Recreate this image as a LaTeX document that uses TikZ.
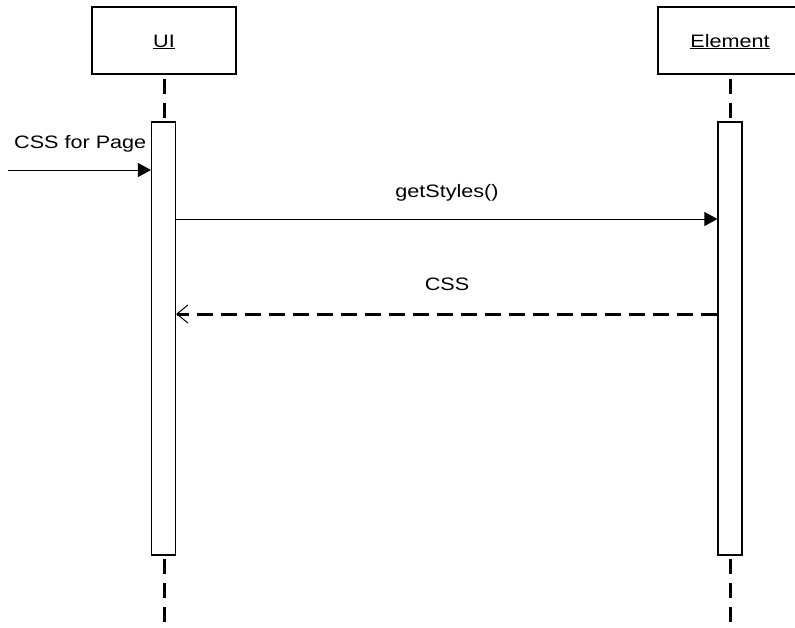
\documentclass[tikz,border=0pt]{standalone}
\usepackage{fontspec}
\setmainfont{Liberation Sans}[FakeStretch=1.2]
\usetikzlibrary{arrows.meta}
\begin{document}
\begin{tikzpicture}[x=1pt,y=-1pt,
  font=\fontsize{18}{21}\selectfont,
  objbox/.style={draw,line width=1.4pt,minimum width=144pt,minimum height=67pt,inner sep=0pt},
  actbox/.style={draw,fill=white,line width=1.2pt,minimum width=24pt,inner sep=0pt},
  lifeline/.style={line width=3pt,dash pattern=on 15pt off 9pt},
  callmsg/.style={line width=1pt,-{Triangle[length=13pt,width=14pt]}},
  retmsg/.style={line width=3pt,dash pattern=on 16pt off 8pt,
    -{Straight Barb[length=11pt,width=18pt,line width=1pt]}},
  lbl/.style={inner sep=0pt,anchor=base}]
\useasboundingbox (0,0) rectangle (795,627);
\clip (0,0) rectangle (795,627);

% object boxes
\node[objbox] (ui) at (164,40.5) {};
\node[lbl] (uitxt) at (164,47) {\underline{UI}};
\node[objbox] (el) at (730,40.5) {};
\node[lbl] (eltxt) at (730,47) {\underline{Element}};

% lifelines
\coordinate (uiend) at (164,627);
\coordinate (elend) at (730,627);
\draw[lifeline,dash phase=-4pt] (ui.south) -- (164,122);
\draw[lifeline,dash phase=-4pt] (el.south) -- (730,122);
\draw[lifeline,dash phase=-4pt] (164,555) -- (uiend);
\draw[lifeline,dash phase=-4pt] (730,555) -- (elend);

% activation bars
\node[actbox,minimum height=433pt] (uiact) at (163.5,338.5) {};
\node[actbox,minimum height=433pt] (elact) at (730,338.5) {};

% incoming message
\coordinate (src) at (8,170);
\draw[callmsg] (src) -- (uiact.west |- src);
\node[lbl,anchor=base west] (m0) at (14,148) {CSS for Page};

% call
\draw[callmsg] (uiact.east |- 0,219) -- (elact.west |- 0,219);
\node[lbl] (m1) at (447,197) {getStyles()};

% return
\draw[retmsg] (elact.west |- 0,314) -- (uiact.east |- 0,314);
\node[lbl] (m2) at (447,290) {CSS};
\end{tikzpicture}
\end{document}
